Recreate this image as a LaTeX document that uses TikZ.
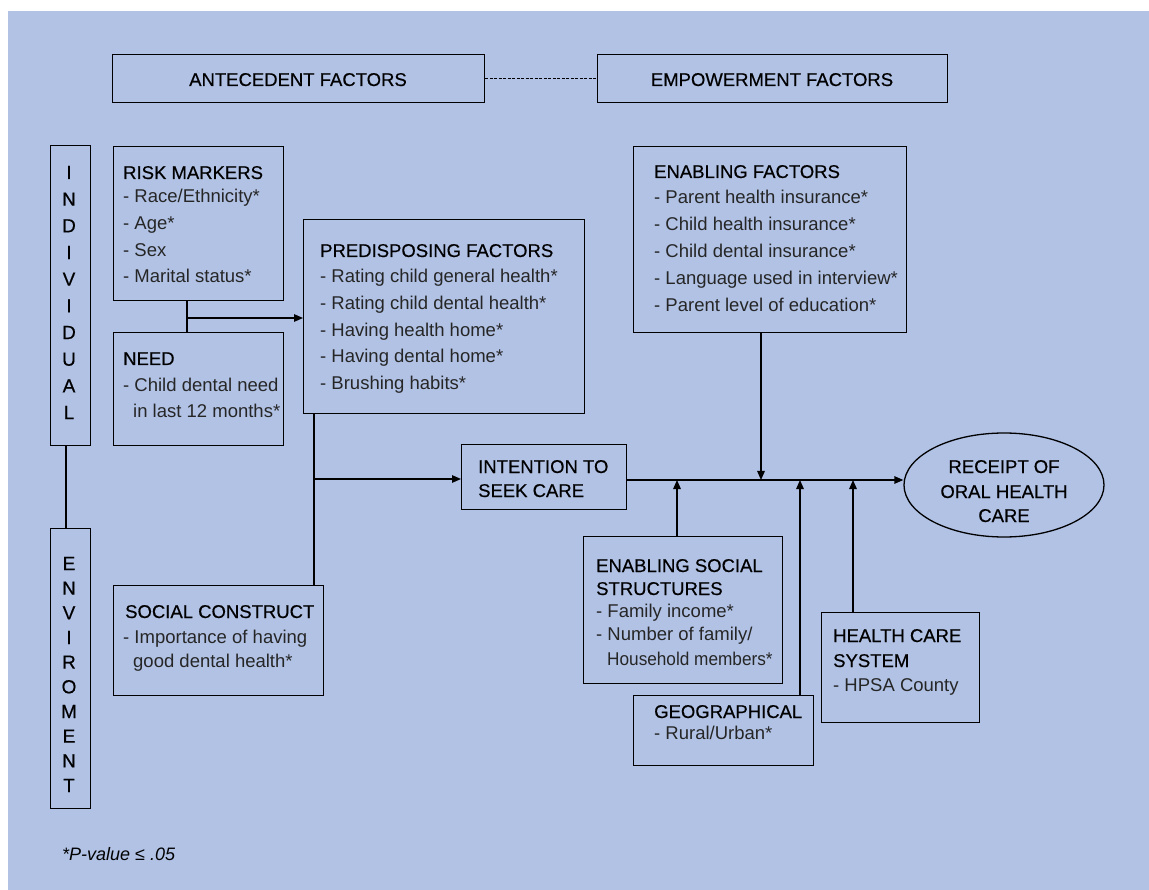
\documentclass[tikz,border=0pt]{standalone}
\usepackage{fontspec}
\setmainfont{Liberation Sans}
\newfontfamily\hdrfont[FakeBold=0.4]{Liberation Sans}
\usetikzlibrary{arrows.meta,shapes.geometric}
\definecolor{bgblue}{RGB}{177,194,229}
\definecolor{itemgray}{RGB}{38,38,38}
\begin{document}
\begin{tikzpicture}[x=1pt,y=-1pt,
  box/.style={draw=black,line width=1.3pt,rectangle,inner sep=0pt,anchor=north west},
  hdr/.style={anchor=base west,inner sep=0pt,text=black,font=\hdrfont\fontsize{18.5}{22}\selectfont},
  itm/.style={anchor=base west,inner sep=0pt,text=itemgray,font=\fontsize{18.5}{22}\selectfont},
  ctr/.style={anchor=base,inner sep=0pt,text=black,font=\hdrfont\fontsize{18.5}{22}\selectfont},
  vlet/.style={anchor=base,inner sep=0pt,text=black,font=\hdrfont\fontsize{19}{22}\selectfont},
  conn/.style={line width=1.3pt},
  arr/.style={line width=1.3pt,-{Triangle[length=9pt,width=7.5pt]}}]
% background
\useasboundingbox (0,0) rectangle (1149,890);
\fill[white] (0,0) rectangle (1149,890);
\fill[bgblue] (8,11) rectangle (1149,890);

% boxes
\node[box,minimum width=372pt,minimum height=48pt] (antec) at (112,54) {};
\node[box,minimum width=350pt,minimum height=48pt] (empow) at (597,54) {};
\node[box,minimum width=40pt,minimum height=300pt] (indiv) at (50,145) {};
\node[box,minimum width=40pt,minimum height=280pt] (env) at (50,528) {};
\node[box,minimum width=170pt,minimum height=154pt] (risk) at (113,146) {};
\node[box,minimum width=170pt,minimum height=113pt] (need) at (113,332) {};
\node[box,minimum width=281pt,minimum height=194pt] (predis) at (303,219) {};
\node[box,minimum width=273pt,minimum height=186pt] (enab) at (633,146) {};
\node[box,minimum width=165pt,minimum height=65pt] (intent) at (461,444) {};
\node[draw=black,line width=1.3pt,ellipse,inner sep=0pt,minimum width=200pt,minimum height=104pt] (receipt) at (1004,485) {};
\node[box,minimum width=210pt,minimum height=110pt] (social) at (113,585) {};
\node[box,minimum width=199pt,minimum height=147pt] (esocial) at (583,536) {};
\node[box,minimum width=180pt,minimum height=70pt] (geo) at (633,695) {};
\node[box,minimum width=158pt,minimum height=110pt] (health) at (821,612) {};

% top texts
\node[ctr] (antecT) at (298,86) {ANTECEDENT FACTORS};
\node[ctr] (empowT) at (772,86) {EMPOWERMENT FACTORS};
\draw[line width=0.9pt,dash pattern=on 3pt off 1.5pt] (antec.east) -- (empow.west);

% vertical letters
\foreach \l [count=\i from 0] in {I,N,D,I,V,I,D,U,A,L}
  \node[vlet] (indL\i) at (69,179+26.67*\i) {\l};
\foreach \l [count=\i from 0] in {E,N,V,I,R,O,M,E,N,T}
  \node[vlet] (envL\i) at (69,570+24.67*\i) {\l};

% risk markers
\node[hdr] (riskH) at (123,179) {RISK MARKERS};
\node[itm] (risk1) at (123,203) {- Race/Ethnicity*};
\node[itm] (risk2) at (123,230) {- Age*};
\node[itm] (risk3) at (123,257) {- Sex};
\node[itm] (risk4) at (123,283) {- Marital status*};

% need
\node[hdr] (needH) at (123,365) {NEED};
\node[itm] (need1) at (123,392) {- Child dental need};
\node[itm] (need2) at (133,418) {in last 12 months*};

% predisposing
\node[hdr] (predH) at (320,257) {PREDISPOSING FACTORS};
\node[itm] (pred1) at (320,283) {- Rating child general health*};
\node[itm] (pred2) at (320,310) {- Rating child dental health*};
\node[itm] (pred3) at (320,337) {- Having health home*};
\node[itm] (pred4) at (320,363) {- Having dental home*};
\node[itm] (pred5) at (320,390) {- Brushing habits*};

% enabling factors
\node[hdr] (enabH) at (654,178) {ENABLING FACTORS};
\node[itm] (enab1) at (654,204) {- Parent health insurance*};
\node[itm] (enab2) at (654,231) {- Child health insurance*};
\node[itm] (enab3) at (654,258) {- Child dental insurance*};
\node[itm] (enab4) at (654,285) {- Language used in interview*};
\node[itm] (enab5) at (654,312) {- Parent level of education*};

% intention
\node[hdr] (intH1) at (478,473) {INTENTION TO};
\node[hdr] (intH2) at (478,497) {SEEK CARE};

% receipt
\node[ctr] (rec1) at (1004,473) {RECEIPT OF};
\node[ctr] (rec2) at (1004,498) {ORAL HEALTH};
\node[ctr] (rec3) at (1004,522) {CARE};

% enabling social structures
\node[hdr] (esH1) at (596,572) {ENABLING SOCIAL};
\node[hdr] (esH2) at (596,595) {STRUCTURES};
\node[itm] (es1) at (596,617) {- Family income*};
\node[itm] (es2) at (596,640) {- Number of family/};
\node[itm] (es3) at (607,665) {\scalebox{0.93}[1]{Household members*}};

% geographical
\node[hdr] (geoH) at (654,718) {GEOGRAPHICAL};
\node[itm] (geo1) at (654,739) {- Rural/Urban*};

% health care system
\node[hdr] (hcH1) at (833,642) {HEALTH CARE};
\node[hdr] (hcH2) at (833,667) {SYSTEM};
\node[itm] (hc1) at (833,691) {- HPSA County};

% social construct
\node[hdr] (scH) at (125,618) {SOCIAL CONSTRUCT};
\node[itm] (sc1) at (123,643) {- Importance of having};
\node[itm] (sc2) at (133,667) {good dental health*};

% footnote
\node[anchor=base west,inner sep=0pt,font=\fontsize{18}{22}\selectfont\itshape] (foot) at (62,860) {*P-value ≤ .05};

% connectors
\coordinate (ie) at (66,0);
\draw[conn] (ie |- indiv.south) -- (ie |- env.north);

\coordinate (rn) at (187,318);
\draw[conn] (rn |- risk.south) -- (rn |- need.north);
\draw[arr] (rn) -- (predis.west |- rn);

\coordinate (ps) at (314,479);
\draw[conn] (ps |- predis.south) -- (ps |- social.north);
\draw[arr] (ps) -- (intent.west |- ps);

\coordinate (main) at (0,480);
\draw[arr] (intent.east |- main) -- (receipt.west |- main);

\coordinate (a1) at (677,480);
\coordinate (a2) at (800,480);
\coordinate (a3) at (853,480);
\coordinate (a4) at (761,480);
\draw[arr] (a4 |- enab.south) -- (a4);
\draw[arr] (a1 |- esocial.north) -- (a1);
\draw[arr] (a2 |- geo.north) -- (a2);
\draw[arr] (a3 |- health.north) -- (a3);
\end{tikzpicture}
\end{document}
